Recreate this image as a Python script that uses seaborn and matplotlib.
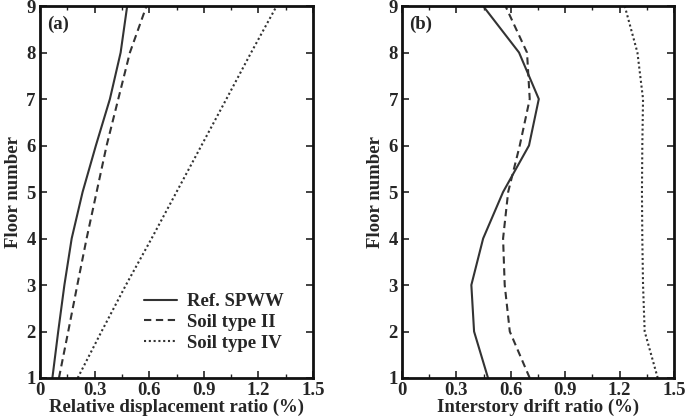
import numpy as np
import pandas as pd
import seaborn as sns
import matplotlib
matplotlib.use("Agg")
import matplotlib.pyplot as plt
from matplotlib.ticker import MultipleLocator

floors = [1, 2, 3, 4, 5, 6, 7, 8, 9]
series_names = ["Ref. SPWW", "Soil type II", "Soil type IV"]

disp_ref = [0.068, 0.10, 0.134, 0.174, 0.234, 0.307, 0.384, 0.443, 0.479]
disp_s2 = [0.104, 0.155, 0.205, 0.256, 0.311, 0.366, 0.430, 0.494, 0.585]
disp_s4 = [0.207, 0.338, 0.472, 0.613, 0.750, 0.887, 1.024, 1.160, 1.300]

drift_ref = [0.474, 0.397, 0.382, 0.447, 0.557, 0.700, 0.754, 0.645, 0.447]
drift_s2 = [0.704, 0.594, 0.566, 0.557, 0.585, 0.649, 0.704, 0.689, 0.570]
drift_s4 = [1.410, 1.338, 1.329, 1.325, 1.323, 1.325, 1.329, 1.298, 1.228]

x_ticks = [0, 0.3, 0.6, 0.9, 1.2, 1.5]
x_tick_labels = ["0", "0.3", "0.6", "0.9", "1.2", "1.5"]

sns.set_theme(style="white")
plt.rcParams["font.family"] = ["Liberation Serif", "DejaVu Serif"]
plt.rcParams["font.weight"] = "bold"

fig = plt.figure(figsize=(6.85, 4.18), dpi=100)
ax_a = fig.add_axes([0.0584, 0.0957, 0.3986, 0.8899])
ax_b = fig.add_axes([0.587, 0.0957, 0.397, 0.8899])

color = "#333333"
styles = ["-", (0, (3.5, 2.2)), (0, (1, 1.3))]
FS = 13.5

def draw(ax, vals, xlabel, tag, legend):
    for name, v, ls in zip(series_names, vals, styles):
        df = pd.DataFrame({"x": v, "floor": floors})
        sns.lineplot(data=df, x="x", y="floor", orient="y", sort=False, ax=ax,
                     color=color, linestyle=ls, linewidth=1.5, label=name if legend else None)
    ax.set_xlim(0, 1.5)
    ax.set_ylim(1, 9)
    ax.set_xticks(x_ticks)
    ax.set_xticklabels(x_tick_labels)
    ax.set_yticks(floors)
    ax.xaxis.set_minor_locator(MultipleLocator(0.15))
    ax.tick_params(which="both", direction="in", top=True, right=True, bottom=True, left=True,
                   labelsize=FS, color="#222222")
    ax.tick_params(which="major", length=5, width=1.2)
    ax.tick_params(which="minor", length=3, width=1.0)
    ax.tick_params(axis="x", pad=3)
    ax.tick_params(axis="y", pad=3)
    for lab in ax.get_xticklabels() + ax.get_yticklabels():
        lab.set_fontweight("bold")
    for sp in ax.spines.values():
        sp.set_visible(True)
        sp.set_color("#111111")
        sp.set_linewidth(2.0)
    ax.set_xlabel(xlabel, fontsize=FS, fontweight="bold", labelpad=0)
    ax.set_ylabel("Floor number", fontsize=FS, fontweight="bold", labelpad=3)
    ax.text(0.025, 0.975, tag, transform=ax.transAxes, fontsize=FS, fontweight="bold",
            va="top", ha="left")
    if legend:
        ax.legend(loc="lower right", bbox_to_anchor=(0.94, 0.035), frameon=False,
                  prop={"weight": "bold", "size": FS}, handlelength=1.8,
                  handletextpad=0.5, labelspacing=0.2, borderpad=0.2)
    else:
        if ax.get_legend():
            ax.get_legend().remove()

draw(ax_a, [disp_ref, disp_s2, disp_s4], "Relative displacement ratio (%)", "(a)", True)
draw(ax_b, [drift_ref, drift_s2, drift_s4], "Interstory drift ratio (%)", "(b)", False)

fig.savefig("out.png", dpi=100)
